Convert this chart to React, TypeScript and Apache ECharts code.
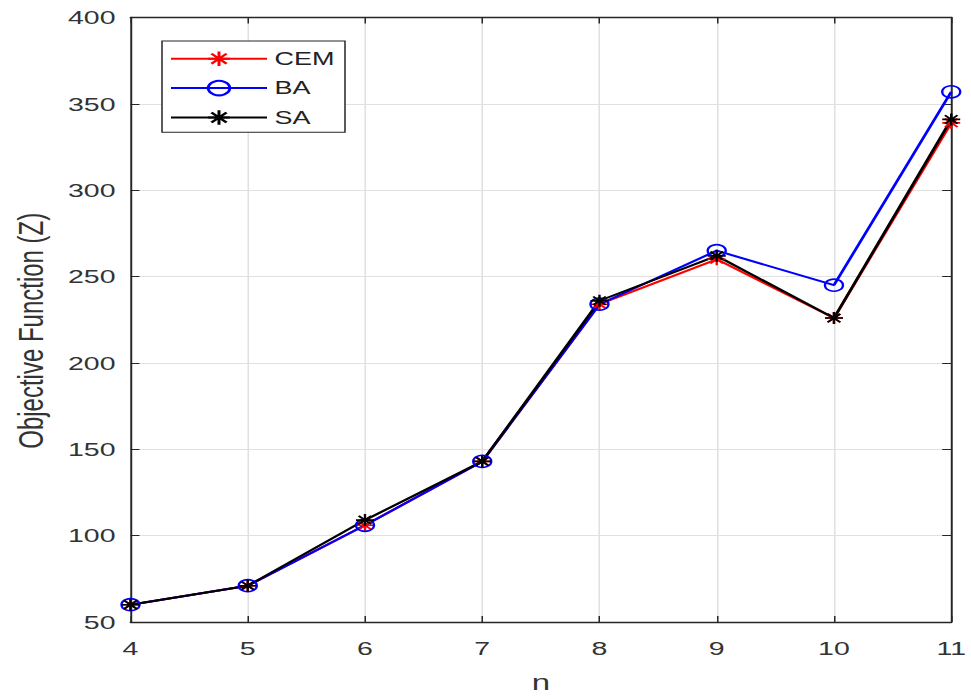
import React, { useEffect, useRef } from "react";
import * as echarts from "echarts";

const nValues = [4, 5, 6, 7, 8, 9, 10, 11];
const cemValues = [60, 71, 106, 143, 234, 260, 226, 339];
const baValues = [60, 71, 106, 143, 234, 265, 245, 357];
const saValues = [60, 71, 109, 143, 236, 262, 226, 341];
const seriesNames = ["CEM", "BA", "SA"];

const STRETCH = 1.5;
const W = 971 / STRETCH;
const H = 699;
const FONT = "'Liberation Sans', Arial, Helvetica, sans-serif";
const STAR = "path://M0 5L10 5M5 0L5 10M1.5 1.5L8.5 8.5M1.5 8.5L8.5 1.5";

function pairs(vals: number[]) {
  return nValues.map((n, i) => [n, vals[i]]);
}

export default function App() {
  const ref = useRef<HTMLDivElement>(null);
  useEffect(() => {
    if (!ref.current) return;
    const chart = echarts.init(ref.current, undefined, { renderer: "svg" });
    const axisColor = "#262626";
    const labelColor = "#333333";
    const gridColor = "#e0e0e0";
    const mkSeries = (name: string, vals: number[], color: string, symbol: string, size: number) => ({
      name,
      type: "line",
      data: pairs(vals),
      symbol,
      symbolSize: size,
      lineStyle: { color, width: 2 },
      itemStyle: { color: "none", borderColor: color, borderWidth: 1.6 },
      emphasis: { disabled: true },
    });
    chart.setOption({
      animation: false,
      backgroundColor: "#ffffff",
      textStyle: { fontFamily: FONT },
      grid: {
        left: 127 / STRETCH,
        right: 16 / STRETCH,
        top: 17.5,
        bottom: 75.5,
        show: false,
      },
      legend: {
        data: seriesNames,
        orient: "vertical",
        left: 162 / STRETCH,
        top: 41,
        itemWidth: 64,
        itemHeight: 18,
        itemGap: 10,
        padding: [8, 7, 5, 5],
        backgroundColor: "#ffffff",
        borderColor: "#262626",
        borderWidth: 1,
        textStyle: { fontSize: 18, color: "#222222", fontFamily: FONT },
      },
      xAxis: [
        {
          type: "value",
          min: 4,
          max: 11,
          interval: 1,
          name: "n",
          nameLocation: "middle",
          nameGap: 50,
          nameTextStyle: { fontSize: 22, color: labelColor, fontFamily: FONT },
          axisLine: { show: true, onZero: false, lineStyle: { color: axisColor, width: 1.3 } },
          axisTick: { show: true, inside: true, length: 6, lineStyle: { color: axisColor } },
          axisLabel: { fontSize: 19, color: labelColor, margin: 17, fontFamily: FONT },
          splitLine: { show: true, lineStyle: { color: gridColor, width: 1 } },
        },
        {
          type: "value",
          position: "top",
          min: 4,
          max: 11,
          interval: 1,
          axisLine: { show: true, onZero: false, lineStyle: { color: axisColor, width: 1.3 } },
          axisTick: { show: true, inside: true, length: 6, lineStyle: { color: axisColor } },
          axisLabel: { show: false },
          splitLine: { show: false },
        },
      ],
      yAxis: [
        {
          type: "value",
          min: 50,
          max: 400,
          interval: 50,
          name: "Objective Function (Z)",
          nameLocation: "middle",
          nameGap: 55,
          nameTextStyle: { fontSize: 24, color: labelColor, fontFamily: FONT, padding: [0, 22, 0, 0] },
          axisLine: { show: true, onZero: false, lineStyle: { color: axisColor, width: 1.3 } },
          axisTick: { show: true, inside: true, length: 6, lineStyle: { color: axisColor } },
          axisLabel: { fontSize: 19, color: labelColor, margin: 10, fontFamily: FONT },
          splitLine: { show: true, lineStyle: { color: gridColor, width: 1 } },
        },
        {
          type: "value",
          position: "right",
          min: 50,
          max: 400,
          interval: 50,
          axisLine: { show: true, onZero: false, lineStyle: { color: axisColor, width: 1.3 } },
          axisTick: { show: true, inside: true, length: 6, lineStyle: { color: axisColor } },
          axisLabel: { show: false },
          splitLine: { show: false },
        },
      ],
      series: [
        mkSeries(seriesNames[0], cemValues, "#ff0000", STAR, 12),
        mkSeries(seriesNames[1], baValues, "#0000ff", "circle", 12),
        mkSeries(seriesNames[2], saValues, "#000000", STAR, 12),
      ],
    });
    return () => chart.dispose();
  }, []);
  return (
    <div
      ref={ref}
      style={{
        position: "fixed",
        left: 0,
        top: 0,
        width: W,
        height: H,
        transform: `scaleX(${STRETCH})`,
        transformOrigin: "0 0",
        background: "#ffffff",
      }}
    />
  );
}
